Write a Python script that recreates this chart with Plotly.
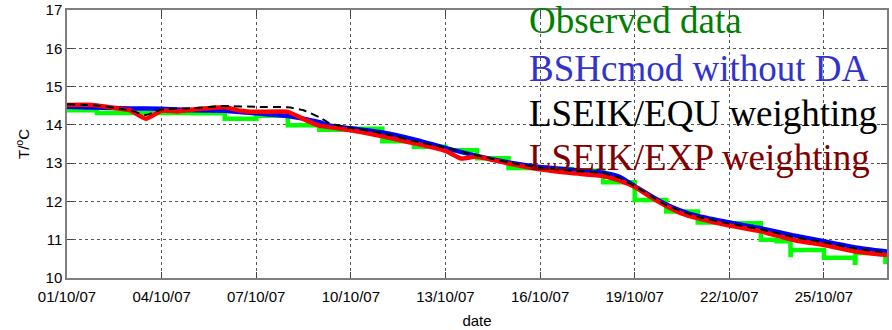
import pandas as pd
import plotly.graph_objects as go

START = pd.Timestamp("2007-10-01")

# Observed data (step function): day offset from 01/10/07, temperature
obs_day = [0.0, 0.95, 4.0, 5.0, 6.0, 7.0, 8.0, 9.0, 10.0, 11.0, 12.0, 13.0, 14.0, 15.0, 16.0,
           17.0, 18.0, 19.0, 20.0, 21.0, 22.0, 22.5, 22.94, 22.95, 24.0, 24.98, 25.0, 25.95, 26.0]
obs_val = [14.38, 14.31, 14.30, 14.16, 14.24, 13.99, 13.87, 13.90, 13.57, 13.43, 13.34, 13.13, 12.87, 12.85, 12.80,
           12.50, 12.04, 11.74, 11.45, 11.43, 11.00, 10.96, 10.60, 10.73, 10.53, 10.40, 10.65, 10.42, 10.42]

# BSHcmod without DA
bsh_day = [0, 0.95, 2, 2.95, 4, 5, 6, 7, 7.94, 8.35, 9, 10, 11.1, 11.9, 12.9, 14, 15, 16.1, 17, 17.5,
           18, 18.5, 19, 19.5, 20, 21, 22, 23, 24, 25, 26]
bsh_val = [14.47, 14.45, 14.43, 14.42, 14.38, 14.37, 14.30, 14.23, 14.08, 13.98, 13.91, 13.80, 13.60, 13.42,
           13.21, 13.02, 12.90, 12.82, 12.75, 12.65, 12.40, 12.15, 11.92, 11.75, 11.62, 11.45, 11.30, 11.12,
           10.96, 10.80, 10.69]

# LSEIK/EQU weighting
equ_day = [0, 1, 2, 2.5, 3, 4, 5, 6, 7, 7.5, 8, 8.3, 9, 10, 11, 12, 13, 14, 15, 16, 17, 17.5, 18, 18.5,
           19, 20, 21, 22, 23, 24, 25, 26]
equ_val = [14.54, 14.50, 14.38, 14.26, 14.40, 14.44, 14.49, 14.47, 14.46, 14.38, 14.20, 14.05, 13.92, 13.78,
           13.58, 13.40, 13.20, 13.02, 12.88, 12.80, 12.74, 12.62, 12.40, 12.15, 11.90, 11.60, 11.42, 11.27,
           11.08, 10.93, 10.77, 10.66]

# LSEIK/EXP weighting
exp_day = [0, 0.8, 1.6, 2, 2.5, 3, 3.5, 4, 5, 5.5, 6, 7, 7.5, 8, 9, 10, 11, 12, 12.5, 13, 14, 15, 16, 17,
           17.5, 18, 18.5, 19, 19.5, 20, 21, 22, 23, 24, 25, 26]
exp_val = [14.52, 14.52, 14.43, 14.38, 14.16, 14.37, 14.35, 14.40, 14.46, 14.37, 14.34, 14.34, 14.15, 13.98,
           13.86, 13.70, 13.52, 13.32, 13.12, 13.17, 12.99, 12.84, 12.74, 12.66, 12.55, 12.38, 12.12, 11.88,
           11.68, 11.56, 11.37, 11.22, 11.00, 10.86, 10.69, 10.60]

tick_days = [0, 3, 6, 9, 12, 15, 18, 21, 24]
y_ticks = [10, 11, 12, 13, 14, 15, 16, 17]

legend_texts = ["Observed data", "BSHcmod without DA", "LSEIK/EQU weighting", "LSEIK/EXP weighting"]
legend_colors = ["#008000", "#3333CC", "#000000", "#800000"]


def to_dates(days):
    return [START + pd.Timedelta(days=d) for d in days]


fig = go.Figure()
fig.add_trace(go.Scatter(x=to_dates(obs_day), y=obs_val, mode="lines", line=dict(color="#00FF00", width=4.5, shape="hv")))
fig.add_trace(go.Scatter(x=to_dates(bsh_day), y=bsh_val, mode="lines", line=dict(color="#0000FF", width=4.5, shape="spline", smoothing=0.5)))
fig.add_trace(go.Scatter(x=to_dates(exp_day), y=exp_val, mode="lines", line=dict(color="#FF0000", width=4.5, shape="spline", smoothing=0.5)))
fig.add_trace(go.Scatter(x=to_dates(equ_day), y=equ_val, mode="lines", line=dict(color="#000000", width=2, dash="8px,5px", shape="spline", smoothing=0.5)))

axis_common = dict(
    showline=True, linecolor="#7f7f7f", linewidth=1.5, mirror="ticks",
    ticks="inside", ticklen=6, tickcolor="#444444", tickwidth=1,
    showgrid=True, gridcolor="#555555", gridwidth=1, griddash="dot",
    zeroline=False, automargin=False,
    tickfont=dict(family="Liberation Sans, Arial", size=15, color="#000000"),
)

fig.update_xaxes(
    type="date",
    range=[START, START + pd.Timedelta(days=26)],
    tickvals=to_dates(tick_days),
    ticktext=[(START + pd.Timedelta(days=d)).strftime("%d/%m/%y") for d in tick_days],
    ticklabelstandoff=4,
    title=dict(text="date", font=dict(family="Liberation Sans, Arial", size=15, color="#000000"), standoff=12),
    **axis_common,
)
fig.update_yaxes(
    range=[10, 17],
    tickvals=y_ticks,
    ticktext=[str(v) for v in y_ticks],
    title=dict(text="T/<sup>o</sup>C", font=dict(family="Liberation Sans, Arial", size=15, color="#000000"), standoff=12),
    **axis_common,
)

leg_y = [0.960, 0.783, 0.612, 0.449]
for txt, col, yy in zip(legend_texts, legend_colors, leg_y):
    fig.add_annotation(text=txt, xref="paper", yref="paper", x=0.561, y=yy, xanchor="left", yanchor="middle",
                       showarrow=False, font=dict(family="Liberation Serif, Times New Roman", size=37, color=col))

fig.update_layout(
    width=892, height=330,
    margin=dict(l=67, r=5, t=10, b=52),
    paper_bgcolor="white", plot_bgcolor="white",
    showlegend=False,
)

fig.write_html("out.html")
